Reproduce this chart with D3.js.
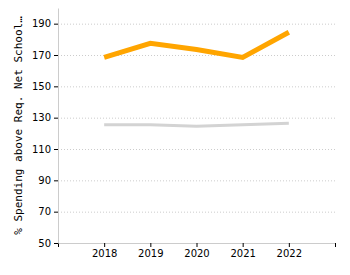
<!DOCTYPE html>
<html>
<head>
<meta charset="utf-8">
<script src="https://cdn.jsdelivr.net/npm/d3@7"></script>
<style>
  body { margin: 0; background: #fff; }
  .grid line { stroke: #ccc; stroke-dasharray: 1,2; }
  .axis path { stroke: #ccc; }
  .axis line { stroke: #000; }
  .axis text { font-family: "DejaVu Sans", Verdana, sans-serif; font-size: 10px; fill: #000; }
</style>
</head>
<body>
<svg id="chart"></svg>
<script>
const years = [2018, 2019, 2020, 2021, 2022];
const districtValues = [168.5, 177.5, 173.5, 168.5, 184.5];
const stateValues = [125.5, 125.5, 124.5, 125.5, 126.5];
const yTicks = [50, 70, 90, 110, 130, 150, 170, 190];
const yLabel = '% Spending above Req. Net School…';

const width = 350, height = 275;
const margin = { top: 8, right: 15, bottom: 32, left: 58 };

const svg = d3.select('#chart').attr('width', width).attr('height', height);

const x = d3.scaleLinear().domain([2017, 2023]).range([margin.left, width - margin.right]);
const y = d3.scaleLinear().domain([50, 200]).range([height - margin.bottom, margin.top]);

// Grid lines
svg.append('g')
    .attr('class', 'grid')
    .attr('transform', `translate(${margin.left},0)`)
    .call(d3.axisLeft(y).tickValues(yTicks.slice(1)).tickSize(-(width - margin.right - margin.left)).tickFormat(''))
    .call(g => g.select('.domain').remove());

// Axes
svg.append('g')
    .attr('class', 'axis')
    .attr('transform', `translate(0,${height - margin.bottom})`)
    .call(d3.axisBottom(x)
        .tickValues([2017, ...years, 2023])
        .tickSize(4)
        .tickSizeOuter(0)
        .tickFormat(d => years.includes(d) ? d : ''));

svg.append('g')
    .attr('class', 'axis')
    .attr('transform', `translate(${margin.left},0)`)
    .call(d3.axisLeft(y).tickValues(yTicks).tickSize(4).tickSizeOuter(0));

// Lines
const line = d3.line().x((d, i) => x(years[i])).y(d => y(d));

svg.append('path')
    .datum(stateValues)
    .attr('fill', 'none')
    .attr('stroke', '#d3d3d3')
    .attr('stroke-width', 3)
    .attr('d', line);

svg.append('path')
    .datum(districtValues)
    .attr('fill', 'none')
    .attr('stroke', '#ffa500')
    .attr('stroke-width', 5)
    .attr('d', line);

// Y label
svg.append('text')
    .attr('transform', `translate(22,${(margin.top + height - margin.bottom) / 2}) rotate(-90)`)
    .attr('text-anchor', 'middle')
    .attr('font-family', '"DejaVu Sans Mono", monospace')
    .attr('font-size', '11px')
    .text(yLabel);
</script>
</body>
</html>
